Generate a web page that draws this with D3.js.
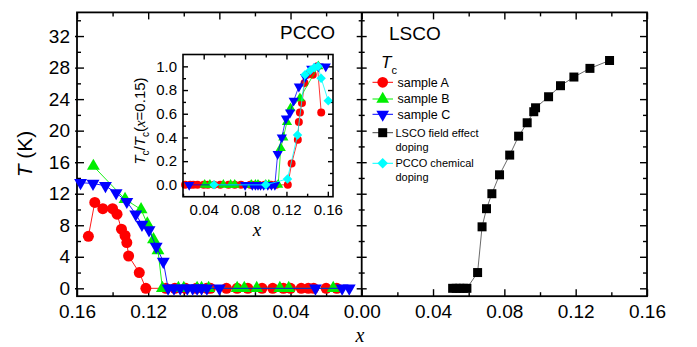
<!DOCTYPE html>
<html>
<head>
<meta charset="utf-8">
<script src="https://cdn.jsdelivr.net/npm/d3@7"></script>
<style>
  body { margin: 0; background: #fff; }
  svg { display: block; }
</style>
</head>
<body>
<div id="chart"></div>
<script>
// ---- data ----
// PCCO samples, main panel (x, Tc in K)
const xA = [0.1536, 0.150, 0.1455, 0.140, 0.1375, 0.135, 0.133, 0.132, 0.131, 0.125, 0.1213, 0.110, 0.105, 0.099, 0.093, 0.087, 0.085, 0.076, 0.070, 0.064, 0.056, 0.050, 0.044, 0.040, 0.034, 0.030, 0.027, 0.020, 0.014];
const tA = [6.6, 10.9, 10.1, 10.1, 9.4, 7.5, 6.7, 5.8, 4.1, 2.0, 0, 0, 0, 0, 0, 0, 0, 0, 0, 0, 0, 0, 0, 0, 0, 0, 0, 0, 0];
const xB = [0.1508, 0.133, 0.124, 0.1205, 0.117, 0.1145, 0.112, 0.103, 0.100, 0.0925, 0.090, 0.086, 0.070, 0.066, 0.059, 0.046, 0.041, 0.016];
const tB = [15.5, 11.3, 10.0, 8.2, 6.2, 4.8, 0, 0, 0, 0, 0, 0, 0, 0, 0, 0, 0, 0];
const xC = [0.158, 0.151, 0.144, 0.138, 0.132, 0.127, 0.1235, 0.1195, 0.1155, 0.1115, 0.1088, 0.1055, 0.102, 0.098, 0.095, 0.0925, 0.090, 0.087, 0.080, 0.026, 0.011, 0.007];
const tC = [13.4, 13.3, 13.0, 12.1, 11.0, 9.4, 8.1, 7.4, 5.3, 3.4, 0, 0, 0, 0, 0, 0, 0, 0, 0, 0, 0, 0];

// LSCO field effect doping, right panel
const xL = [0.051, 0.053, 0.055, 0.057, 0.059, 0.065, 0.0675, 0.070, 0.073, 0.0773, 0.083, 0.088, 0.0928, 0.0965, 0.0975, 0.1048, 0.1115, 0.119, 0.128, 0.139];
const tL = [0, 0, 0, 0, 0, 2.0, 7.8, 10.1, 12.0, 14.4, 16.9, 19.3, 21.0, 22.4, 22.9, 24.3, 25.7, 26.8, 27.9, 28.9];

// inset: Tc / Tc(x=0.15)
const ixA = [0.022, 0.027, 0.030, 0.034, 0.040, 0.044, 0.050, 0.056, 0.064, 0.070, 0.076, 0.085, 0.087, 0.093, 0.099, 0.105, 0.110, 0.1213, 0.125, 0.131, 0.132, 0.133, 0.135, 0.1375, 0.140, 0.1455, 0.150, 0.1536];
const iyA = [0, 0, 0, 0, 0, 0, 0, 0, 0, 0, 0, 0, 0, 0, 0, 0, 0, 0, 0.18, 0.38, 0.53, 0.61, 0.69, 0.86, 0.93, 0.93, 1.0, 0.61];
const ixB = [0.041, 0.046, 0.059, 0.066, 0.070, 0.086, 0.090, 0.0925, 0.100, 0.103, 0.112, 0.1145, 0.117, 0.1205, 0.124, 0.133, 0.1508];
const iyB = [0, 0, 0, 0, 0, 0, 0, 0, 0, 0, 0, 0.31, 0.40, 0.53, 0.645, 0.73, 1.0];
const ixC = [0.026, 0.080, 0.087, 0.090, 0.0925, 0.095, 0.098, 0.102, 0.1055, 0.1088, 0.1115, 0.1155, 0.1195, 0.1235, 0.127, 0.132, 0.138, 0.144, 0.151, 0.158];
const iyC = [0, 0, 0, 0, 0, 0, 0, 0, 0, 0, 0.26, 0.40, 0.56, 0.61, 0.71, 0.83, 0.91, 0.98, 1.0, 1.0];
// PCCO chemical doping
const ixP = [0.050, 0.100, 0.121, 0.1307, 0.138, 0.143, 0.147, 0.1506, 0.1535, 0.1604];
const iyP = [0, 0, 0.05, 0.42, 0.93, 0.966, 0.99, 1.0, 0.90, 0.71];

const yTicks = [0, 4, 8, 12, 16, 20, 24, 28, 32];
const xTicksLeft = [0.16, 0.12, 0.08, 0.04, 0.00];
const xTicksRight = [0.04, 0.08, 0.12, 0.16];
const insetXTicks = [0.04, 0.08, 0.12, 0.16];
const insetYTicks = [0.0, 0.2, 0.4, 0.6, 0.8, 1.0];

// ---- layout ----
const width = 697, height = 347;
const font = 'Liberation Sans, Arial, sans-serif';
const serif = 'Liberation Serif, Times New Roman, serif';

const svg = d3.select('#chart').append('svg')
  .attr('width', width).attr('height', height)
  .style('background', '#fff');

const xLeft = d3.scaleLinear().domain([0.16, 0]).range([77, 361.7]);
const xRight = d3.scaleLinear().domain([0, 0.16]).range([361.7, 647]);
const y = d3.scaleLinear().domain([-1, 35]).range([296.2, 12.4]);

const xi = d3.scaleLinear().domain([0.02, 0.165]).range([183, 333]);
const yi = d3.scaleLinear().domain([-0.1, 1.1]).range([196.7, 54.5]);

const zip = (xs, ys) => xs.map((d, i) => [d, ys[i]]);

// helpers for axes with no domain path
function axisG(axis, tx, ty, size) {
  const g = svg.append('g')
    .attr('transform', `translate(${tx},${ty})`)
    .call(axis);
  g.select('.domain').remove();
  g.selectAll('line').attr('stroke', '#000').attr('stroke-width', 1.4);
  g.selectAll('text').attr('font-family', font).attr('font-size', size || 18).attr('fill', '#000');
  return g;
}

const yMinor = d3.range(2, 35, 4);
const fmtY = d3.format('d');

// left axis of left panel
axisG(d3.axisLeft(y).tickValues(yTicks).tickSizeInner(-7).tickSizeOuter(0).tickPadding(7).tickFormat(fmtY), 77, 0, 19);
axisG(d3.axisLeft(y).tickValues(yTicks).tickSizeInner(2).tickSizeOuter(0).tickFormat(''), 77, 0);
axisG(d3.axisLeft(y).tickValues(yMinor).tickSizeInner(-4).tickSizeOuter(0).tickFormat(''), 77, 0);
// divider: ticks both sides
axisG(d3.axisLeft(y).tickValues(yTicks).tickSizeInner(5).tickSizeOuter(0).tickFormat(''), 361.7, 0);
axisG(d3.axisRight(y).tickValues(yTicks).tickSizeInner(5).tickSizeOuter(0).tickFormat(''), 361.7, 0);
axisG(d3.axisLeft(y).tickValues(yMinor).tickSizeInner(3).tickSizeOuter(0).tickFormat(''), 361.7, 0);
axisG(d3.axisRight(y).tickValues(yMinor).tickSizeInner(3).tickSizeOuter(0).tickFormat(''), 361.7, 0);
// right border
axisG(d3.axisRight(y).tickValues(yTicks).tickSizeInner(-7).tickSizeOuter(0).tickFormat(''), 647, 0);
axisG(d3.axisRight(y).tickValues(yMinor).tickSizeInner(-4).tickSizeOuter(0).tickFormat(''), 647, 0);

// bottom axes
const bottomY = y(-1), topY = y(35);
axisG(d3.axisBottom(xLeft).tickValues(xTicksLeft).tickSizeInner(-7).tickSizeOuter(0).tickPadding(8).tickFormat(d3.format('.2f')), 0, bottomY, 19);
axisG(d3.axisBottom(xLeft).tickValues([0.14, 0.10, 0.06, 0.02]).tickSizeInner(-4).tickSizeOuter(0).tickFormat(''), 0, bottomY);
axisG(d3.axisBottom(xRight).tickValues(xTicksRight).tickSizeInner(-7).tickSizeOuter(0).tickPadding(8).tickFormat(d3.format('.2f')), 0, bottomY, 19);
axisG(d3.axisBottom(xRight).tickValues([0.02, 0.06, 0.10, 0.14]).tickSizeInner(-4).tickSizeOuter(0).tickFormat(''), 0, bottomY);
// top axes
axisG(d3.axisTop(xLeft).tickValues(xTicksLeft).tickSizeInner(-7).tickSizeOuter(0).tickFormat(''), 0, topY);
axisG(d3.axisTop(xLeft).tickValues([0.14, 0.10, 0.06, 0.02]).tickSizeInner(-4).tickSizeOuter(0).tickFormat(''), 0, topY);
axisG(d3.axisTop(xRight).tickValues(xTicksRight).tickSizeInner(-7).tickSizeOuter(0).tickFormat(''), 0, topY);
axisG(d3.axisTop(xRight).tickValues([0.02, 0.06, 0.10, 0.14]).tickSizeInner(-4).tickSizeOuter(0).tickFormat(''), 0, topY);

// frame
svg.append('rect')
  .attr('x', 77).attr('y', topY)
  .attr('width', 647 - 77).attr('height', bottomY - topY)
  .attr('fill', 'none').attr('stroke', '#000').attr('stroke-width', 1.8);
svg.append('line')
  .attr('x1', 361.7).attr('x2', 361.7).attr('y1', topY).attr('y2', bottomY)
  .attr('stroke', '#000').attr('stroke-width', 1.8);

// ---- series drawing ----
function drawSeries(data, xs, ys, color, lineColor, type, size, rot, lw) {
  const g = svg.append('g');
  g.append('path')
    .datum(data)
    .attr('fill', 'none')
    .attr('stroke', lineColor)
    .attr('stroke-width', lw || 1)
    .attr('d', d3.line().x(d => xs(d[0])).y(d => ys(d[1])));
  g.selectAll('path.pt')
    .data(data)
    .enter()
    .append('path')
    .attr('class', 'pt')
    .attr('d', d3.symbol().type(type).size(size)())
    .attr('transform', d => `translate(${xs(d[0])},${ys(d[1])}) rotate(${rot})`)
    .attr('fill', color);
  return g;
}

const RED = '#ff0000', GREEN = '#00ee00', BLUE = '#0000ff', CYAN = '#00ffff';

drawSeries(zip(xA, tA), xLeft, y, RED, RED, d3.symbolCircle, 95, 0, 0.9);
drawSeries(zip(xB, tB), xLeft, y, GREEN, GREEN, d3.symbolTriangle, 72, 0, 0.9);
drawSeries(zip(xC, tC), xLeft, y, BLUE, BLUE, d3.symbolTriangle, 72, 180, 0.9);
drawSeries(zip(xL, tL), xRight, y, '#000', '#444', d3.symbolSquare, 81, 0, 0.8);

// ---- inset ----
const iTop = yi(1.1), iBot = yi(-0.1);
svg.append('rect')
  .attr('x', 183).attr('y', iTop)
  .attr('width', 333 - 183).attr('height', iBot - iTop)
  .attr('fill', '#fff');

axisG(d3.axisBottom(xi).tickValues(insetXTicks).tickSizeInner(-5).tickSizeOuter(0).tickPadding(8).tickFormat(d3.format('.2f')), 0, iBot, 15);
axisG(d3.axisBottom(xi).tickValues([0.02, 0.06, 0.10, 0.14]).tickSizeInner(-3).tickSizeOuter(0).tickFormat(''), 0, iBot);
axisG(d3.axisTop(xi).tickValues(insetXTicks).tickSizeInner(-5).tickSizeOuter(0).tickFormat(''), 0, iTop);
axisG(d3.axisTop(xi).tickValues([0.06, 0.10, 0.14]).tickSizeInner(-3).tickSizeOuter(0).tickFormat(''), 0, iTop);
axisG(d3.axisLeft(yi).tickValues(insetYTicks).tickSizeInner(-5).tickSizeOuter(0).tickPadding(6).tickFormat(d3.format('.1f')), 183, 0, 15);
axisG(d3.axisLeft(yi).tickValues([0.1, 0.3, 0.5, 0.7, 0.9]).tickSizeInner(-3).tickSizeOuter(0).tickFormat(''), 183, 0);
axisG(d3.axisRight(yi).tickValues(insetYTicks).tickSizeInner(-5).tickSizeOuter(0).tickFormat(''), 333, 0);
axisG(d3.axisRight(yi).tickValues([0.1, 0.3, 0.5, 0.7, 0.9]).tickSizeInner(-3).tickSizeOuter(0).tickFormat(''), 333, 0);

drawSeries(zip(ixA, iyA), xi, yi, RED, RED, d3.symbolCircle, 50, 0, 0.8);
drawSeries(zip(ixB, iyB), xi, yi, GREEN, GREEN, d3.symbolTriangle, 45, 0, 0.8);
drawSeries(zip(ixC, iyC), xi, yi, BLUE, BLUE, d3.symbolTriangle, 45, 180, 0.8);
drawSeries(zip(ixP, iyP), xi, yi, CYAN, CYAN, d3.symbolSquare, 45, 45, 0.8);

svg.append('rect')
  .attr('x', 183).attr('y', iTop)
  .attr('width', 333 - 183).attr('height', iBot - iTop)
  .attr('fill', 'none').attr('stroke', '#000').attr('stroke-width', 1.6);

// inset axis titles
const iyl = svg.append('text')
  .attr('transform', 'translate(145,121) rotate(-90)')
  .attr('text-anchor', 'middle')
  .attr('font-family', font).attr('font-size', 15);
iyl.append('tspan').attr('font-style', 'italic').text('T');
iyl.append('tspan').attr('font-size', 10).attr('dy', 4).text('c');
iyl.append('tspan').attr('dy', -4).text('/');
iyl.append('tspan').attr('font-style', 'italic').text('T');
iyl.append('tspan').attr('font-size', 10).attr('dy', 4).text('c');
iyl.append('tspan').attr('dy', -4).text('(');
iyl.append('tspan').attr('font-family', serif).attr('font-style', 'italic').text('x');
iyl.append('tspan').text('=0.15)');

svg.append('text')
  .attr('x', 257).attr('y', 236)
  .attr('text-anchor', 'middle')
  .attr('font-family', serif).attr('font-style', 'italic').attr('font-size', 19)
  .text('x');

// ---- main titles ----
svg.append('text')
  .attr('x', 360).attr('y', 342)
  .attr('text-anchor', 'middle')
  .attr('font-family', serif).attr('font-style', 'italic').attr('font-size', 20)
  .text('x');

const yl = svg.append('text')
  .attr('transform', 'translate(32,154) rotate(-90)')
  .attr('text-anchor', 'middle')
  .attr('font-family', font).attr('font-size', 21);
yl.append('tspan').attr('font-style', 'italic').text('T');
yl.append('tspan').text(' (K)');

svg.append('text')
  .attr('x', 335).attr('y', 39)
  .attr('text-anchor', 'end')
  .attr('font-family', font).attr('font-size', 19)
  .text('PCCO');
svg.append('text')
  .attr('x', 389).attr('y', 40)
  .attr('font-family', font).attr('font-size', 19)
  .text('LSCO');

// ---- legend ----
const lg = svg.append('g');
const tc = lg.append('text').attr('x', 381).attr('y', 68)
  .attr('font-family', font).attr('font-size', 17);
tc.append('tspan').attr('font-style', 'italic').text('T');
tc.append('tspan').attr('font-size', 11).attr('dy', 6).text('c');

const legendItems = [
  { label: ['sample A'], color: RED, line: RED, type: d3.symbolCircle, size: 90, rot: 0, y: 82.3, fs: 12.5, tx: 397.5 },
  { label: ['sample B'], color: GREEN, line: GREEN, type: d3.symbolTriangle, size: 70, rot: 0, y: 99, fs: 12.5, tx: 397.5 },
  { label: ['sample C'], color: BLUE, line: BLUE, type: d3.symbolTriangle, size: 70, rot: 180, y: 114.3, fs: 12.5, tx: 397.5 },
  { label: ['LSCO field effect', 'doping'], color: '#000', line: '#444', type: d3.symbolSquare, size: 81, rot: 0, y: 132.7, fs: 11, tx: 395.5 },
  { label: ['PCCO chemical', 'doping'], color: CYAN, line: CYAN, type: d3.symbolSquare, size: 55, rot: 45, y: 163.3, fs: 11, tx: 395.5 }
];
legendItems.forEach(it => {
  lg.append('line')
    .attr('x1', 372.5).attr('x2', 393).attr('y1', it.y).attr('y2', it.y)
    .attr('stroke', it.line).attr('stroke-width', 1);
  lg.append('path')
    .attr('d', d3.symbol().type(it.type).size(it.size)())
    .attr('transform', `translate(382.7,${it.y}) rotate(${it.rot})`)
    .attr('fill', it.color);
  it.label.forEach((t, k) => {
    lg.append('text')
      .attr('x', it.tx).attr('y', it.y + k * 14.2)
      .attr('dy', '0.35em')
      .attr('font-family', font).attr('font-size', it.fs)
      .text(t);
  });
});
</script>
</body>
</html>
